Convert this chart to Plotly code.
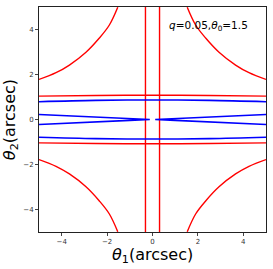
import numpy as np
import plotly.graph_objects as go

# critical curve (red) - outer hyperbola-like branch, upper-left quadrant
crit_outer_x = [-5.0, -4.25, -3.66, -2.93, -2.35, -1.90, -1.53]
crit_outer_y = [1.78, 2.08, 2.42, 2.99, 3.61, 4.20, 4.99]
# critical curve near-horizontal lines
crit_h_x = [-5.0, -2.5, 0.0, 2.5, 5.0]
crit_h_y = [1.04, 1.07, 1.08, 1.07, 1.04]
# critical curve vertical lines
crit_v_x = [0.31, 0.31]
crit_v_y = [-5.0, 5.0]
# caustic (blue) outer near-horizontal lines
caus_h_x = [-5.0, -2.5, 0.0, 2.5, 5.0]
caus_h_y = [0.79, 0.85, 0.87, 0.85, 0.79]
# caustic inner wedge (left branch, mirrored for right)
caus_w_x = [-5.0, -2.6, -1.0, -0.12, -1.0, -2.6, -5.0]
caus_w_y = [0.22, 0.11, 0.04, 0.0, -0.04, -0.11, -0.22]

ticks = [-4, -2, 0, 2, 4]

RED = "#ff0000"
BLUE = "#0000ff"

fig = go.Figure()

def add(x, y, color, w=1.4, shape="spline"):
    fig.add_trace(go.Scatter(x=list(x), y=list(y), mode="lines",
                             line=dict(color=color, width=w, shape=shape),
                             showlegend=False, hoverinfo="skip"))

ox = np.array(crit_outer_x); oy = np.array(crit_outer_y)
for sx in (1, -1):
    for sy in (1, -1):
        add(sx * ox, sy * oy, RED)

hx = np.array(crit_h_x); hy = np.array(crit_h_y)
add(hx, hy, RED)
add(hx, -hy, RED)
vx = np.array(crit_v_x); vy = np.array(crit_v_y)
add(vx, vy, RED, shape="linear")
add(-vx, vy, RED, shape="linear")

cx = np.array(caus_h_x); cy = np.array(caus_h_y)
add(cx, cy, BLUE, 1.6)
add(cx, -cy, BLUE, 1.6)
wx = np.array(caus_w_x); wy = np.array(caus_w_y)
add(wx, wy, BLUE, 1.6, shape="linear")
add(-wx, wy, BLUE, 1.6, shape="linear")

axis_common = dict(range=[-5, 5], showgrid=False, zeroline=False,
                   showline=True, mirror=True, linecolor="#222", linewidth=1,
                   ticks="outside", ticklen=3, tickwidth=1, tickcolor="#444",
                   tickvals=ticks, ticktext=[str(t).replace("-", "\u2212") for t in ticks],
                   tickfont=dict(family="DejaVu Sans", size=7, color="#333"))

fig.update_layout(
    width=273, height=269,
    margin=dict(l=39, r=6, t=7, b=37),
    paper_bgcolor="white", plot_bgcolor="white",
    xaxis=axis_common, yaxis=axis_common,
    annotations=[
        dict(text="<i>q</i>=0.05,<i>θ</i><sub>0</sub>=1.5", x=0.745, y=0.915,
             xref="paper", yref="paper", xanchor="center", yanchor="middle",
             showarrow=False, font=dict(family="DejaVu Sans", size=10.5, color="black")),
        dict(text="<i>θ</i><sub>1</sub>(arcsec)", x=0.5, y=-0.105,
             xref="paper", yref="paper", xanchor="center", yanchor="middle",
             showarrow=False, font=dict(family="DejaVu Sans", size=16, color="black")),
        dict(text="<i>θ</i><sub>2</sub>(arcsec)", x=-0.125, y=0.5,
             xref="paper", yref="paper", xanchor="center", yanchor="middle",
             textangle=-90, showarrow=False,
             font=dict(family="DejaVu Sans", size=16, color="black")),
    ],
)

post = ("document.body.style.margin='0';document.body.style.padding='0';"
        "document.body.style.overflow='hidden';"
        "var gd=document.getElementById('{plot_id}');"
        "Plotly.relayout(gd,{width:273,height:269});")

fig.write_html("out.html", post_script=post, config={"displayModeBar": False})
